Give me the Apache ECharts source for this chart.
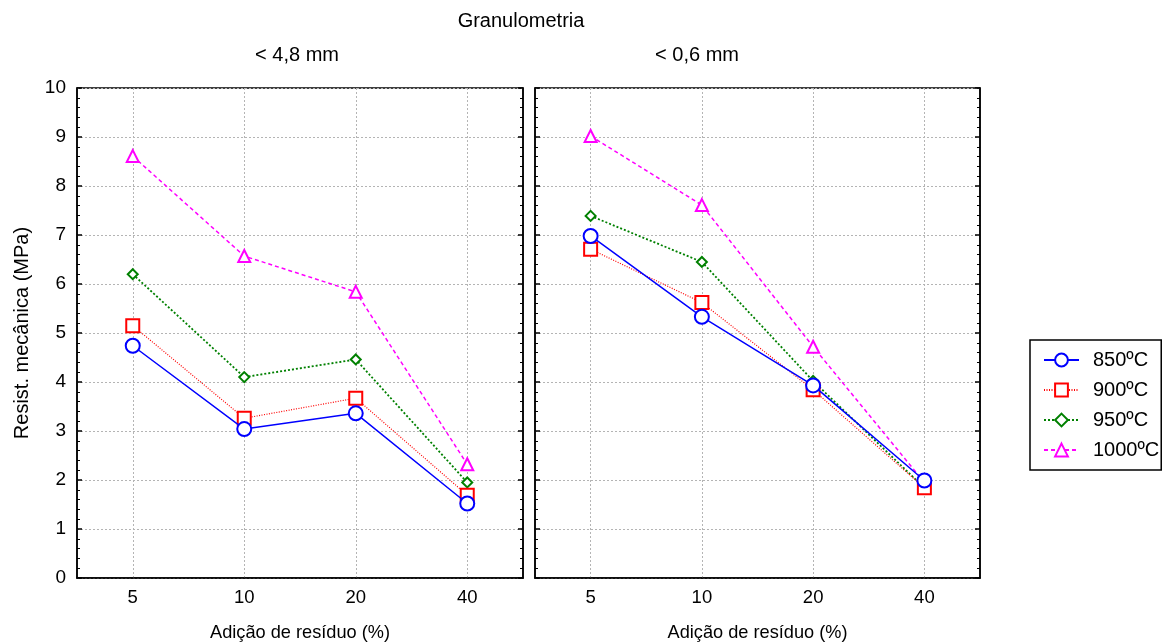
<!DOCTYPE html>
<html>
<head>
<meta charset="utf-8">
<script src="https://cdn.jsdelivr.net/npm/echarts@6/dist/echarts.min.js"></script>
<style>html,body{margin:0;padding:0;background:#fff;}#c{width:1163px;height:643px;}</style>
</head>
<body>
<div id="c"></div>
<script>
// ---- data ----
const categories = ['5', '10', '20', '40'];
const seriesNames = ['850ºC', '900ºC', '950ºC', '1000ºC'];
// Granulometria < 4,8 mm
const left850 = [4.74, 3.04, 3.36, 1.52];
const left900 = [5.15, 3.26, 3.67, 1.69];
const left950 = [6.20, 4.10, 4.46, 1.95];
const left1000 = [8.61, 6.57, 5.84, 2.32];
// Granulometria < 0,6 mm
const right850 = [6.98, 5.33, 3.93, 1.99];
const right900 = [6.71, 5.62, 3.84, 1.84];
const right950 = [7.39, 6.45, 4.02, 1.84];
const right1000 = [9.02, 7.61, 4.72, 1.95];
const yTicks = [0, 1, 2, 3, 4, 5, 6, 7, 8, 9, 10];

const FONT = 'Liberation Sans';
const styles = [
  {color: '#0000ff', symbol: 'emptyCircle', size: 14, type: 'solid', width: 1.5},
  {color: '#ff0000', symbol: 'emptyRect', size: 13, type: [1, 1.5], width: 1.2},
  {color: '#008000', symbol: 'emptyDiamond', size: 10, type: [2, 2], width: 1.8},
  {color: '#ff00ff', symbol: 'emptyTriangle', size: 12, type: [4, 3], width: 1.5}
];
const leftData = [left850, left900, left950, left1000];
const rightData = [right850, right900, right950, right1000];

const chart = echarts.init(document.getElementById('c'));

function xAx(gi) {
  return {
    type: 'category', gridIndex: gi, data: categories, boundaryGap: true,
    axisLine: {show: true, lineStyle: {color: '#000', width: 1.5}},
    axisTick: {show: false},
    axisLabel: {color: '#000', fontSize: 18.5, fontFamily: FONT, margin: 10},
    splitLine: {show: true, alignWithLabel: true, lineStyle: {color: '#b4b4b4', type: [2, 2], width: 1}},
    name: 'Adição de resíduo (%)', nameLocation: 'middle', nameGap: 46,
    nameTextStyle: {color: '#000', fontSize: 18.2, fontFamily: FONT}
  };
}
function yAx(gi, pos, labels, grid) {
  return {
    type: 'value', gridIndex: gi, position: pos, min: yTicks[0], max: yTicks[yTicks.length - 1], interval: 1,
    axisLine: {show: true, lineStyle: {color: '#000', width: 1.5}},
    axisTick: {show: true, inside: true, length: 5, lineStyle: {color: '#000', width: 1.5}},
    minorTick: {show: true, splitNumber: 5, length: 3, lineStyle: {color: '#000', width: 1}},
    axisLabel: {show: labels, color: '#000', fontSize: 19, fontFamily: FONT, margin: 11},
    splitLine: {show: grid, lineStyle: {color: '#b4b4b4', type: [2, 2], width: 1}},
    name: labels ? 'Resist. mecânica (MPa)' : '', nameLocation: 'middle', nameGap: 45,
    nameTextStyle: {color: '#000', fontSize: 20, fontFamily: FONT}
  };
}

const series = [];
[leftData, rightData].forEach((set, gi) => {
  set.forEach((vals, i) => {
    const s = styles[i];
    series.push({
      type: 'line', name: seriesNames[i], xAxisIndex: gi, yAxisIndex: gi * 2,
      data: vals, symbol: s.symbol, symbolSize: s.size,
      lineStyle: {color: s.color, type: s.type, width: s.width},
      itemStyle: {color: s.color, borderColor: s.color, borderWidth: 1.5},
      emphasis: {disabled: true}, animation: false, z: 3 + (3 - i)
    });
  });
});

const titleStyle = {fontSize: 20, fontWeight: 'normal', color: '#000', fontFamily: FONT};
chart.setOption({
  backgroundColor: '#fff',
  animation: false,
  textStyle: {fontFamily: FONT},
  title: [
    {text: 'Granulometria', left: 516, top: 6, textAlign: 'center', textStyle: titleStyle},
    {text: '< 4,8 mm', left: 292, top: 40, textAlign: 'center', textStyle: titleStyle},
    {text: '< 0,6 mm', left: 692, top: 40, textAlign: 'center', textStyle: titleStyle}
  ],
  legend: {
    orient: 'vertical', left: 1030, top: 340, data: seriesNames,
    borderColor: '#000', borderWidth: 1.5, padding: [10, 2, 10, 13],
    itemWidth: 35, itemHeight: 16, itemGap: 10,
    textStyle: {fontSize: 20, color: '#000', fontFamily: FONT, padding: [0, 0, 0, 9]},
    selectedMode: false
  },
  grid: [
    {left: 77, top: 88, width: 446, height: 490, show: true, borderColor: '#000', borderWidth: 1.5, backgroundColor: 'transparent', outerBoundsMode: 'none', containLabel: false},
    {left: 535, top: 88, width: 445, height: 490, show: true, borderColor: '#000', borderWidth: 1.5, backgroundColor: 'transparent', outerBoundsMode: 'none', containLabel: false}
  ],
  xAxis: [xAx(0), xAx(1)],
  yAxis: [yAx(0, 'left', true, true), yAx(0, 'right', false, false), yAx(1, 'left', false, true), yAx(1, 'right', false, false)],
  series: series
});
</script>
</body>
</html>
